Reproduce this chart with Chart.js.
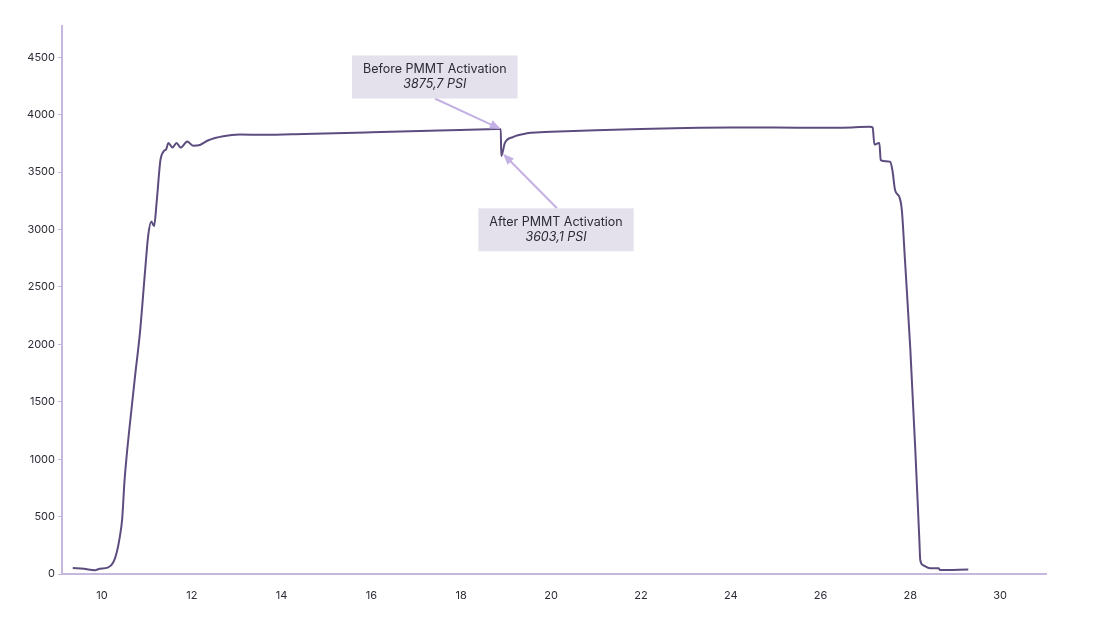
<!DOCTYPE html>
<html>
<head>
<meta charset="utf-8">
<script src="https://cdn.jsdelivr.net/npm/chart.js@4.4.1/dist/chart.umd.min.js"></script>
<style>
  html, body { margin: 0; padding: 0; background: #fff; }
  #wrap { width: 1094px; height: 626px; }
</style>
</head>
<body>
<div id="wrap"><canvas id="pressureChart"></canvas></div>
<script>
// time (min) vs pressure (PSI)
const timeValues = [
  9.35, 9.6, 9.84, 9.95, 10.13, 10.25, 10.33, 10.40, 10.45, 10.50, 10.55, 10.62, 10.73, 10.85, 10.96,
  11.03, 11.10, 11.16, 11.22, 11.30, 11.37, 11.43, 11.48, 11.57, 11.66, 11.75, 11.90, 12.03, 12.18,
  12.37, 12.70, 13.07, 13.6, 14.5, 16, 17.5, 18.80, 18.88, 18.89, 18.97, 19.15, 19.46, 19.75, 20,
  21, 22, 23, 24, 25, 26, 26.7, 27.1, 27.16, 27.20, 27.28, 27.31, 27.34, 27.45, 27.55, 27.60, 27.66,
  27.76, 27.81, 27.88, 28.0, 28.11, 28.20, 28.22, 28.28, 28.44, 28.63, 28.66, 29.29
];
const pressureValues = [
  52, 45, 33, 45, 55, 100, 190, 330, 480, 800, 1030, 1300, 1700, 2120, 2640,
  2950, 3070, 3030, 3250, 3600, 3680, 3700, 3754, 3714, 3754, 3714, 3766, 3731, 3737,
  3778, 3813, 3827, 3826, 3833, 3847, 3862, 3875.7, 3876, 3640, 3753, 3806, 3838, 3847, 3852,
  3866, 3876, 3884, 3888, 3888, 3886, 3890, 3895, 3890, 3740, 3752, 3754, 3604, 3595, 3589, 3517, 3343,
  3279, 3169, 2733, 1950, 1079, 296, 122, 78, 49, 49, 35, 40
];
const yTicks = [0, 500, 1000, 1500, 2000, 2500, 3000, 3500, 4000, 4500];

const noteTitles = ['Before PMMT Activation', 'After PMMT Activation'];
const noteValues = ['3875,7 PSI', '3603,1 PSI'];
const noteTargets = [{ x: 18.88, y: 3876 }, { x: 18.93, y: 3660 }];

const LINE_COLOR = '#5d4d7f';
const AXIS_COLOR = '#c6b7dd';
const NOTE_FILL = '#e4e0ec';
const ARROW_COLOR = '#c3b1e3';
const TEXT_COLOR = '#2b2b36';
const FONT = 'Inter, "Noto Sans", sans-serif';

// box centre offsets from the arrow target, in px
const noteOffsets = [{ dx: -66, dy: -52 }, { dx: 53, dy: 76 }];

const notesPlugin = {
  id: 'notes',
  afterDatasetsDraw(chart) {
    const { ctx, scales: { x, y } } = chart;
    ctx.save();
    noteTargets.forEach((t, i) => {
      const tx = x.getPixelForValue(t.x);
      const ty = y.getPixelForValue(t.y);
      const cx = tx + noteOffsets[i].dx;
      const cy = ty + noteOffsets[i].dy;

      ctx.font = '12.5px ' + FONT;
      const w = ctx.measureText(noteTitles[i]).width + 22;
      const h = 43;
      const bx = cx - w / 2, by = cy - h / 2;

      // arrow from box edge to target
      const sx = cx + (i === 0 ? 0 : 1);
      const sy = i === 0 ? by + h : by;
      const ang = Math.atan2(ty - sy, tx - sx);
      const headLen = 11, headW = 4.5;
      const ex = tx - Math.cos(ang) * headLen * 0.8;
      const ey = ty - Math.sin(ang) * headLen * 0.8;
      ctx.strokeStyle = ARROW_COLOR;
      ctx.lineWidth = 2;
      ctx.beginPath();
      ctx.moveTo(sx, sy);
      ctx.lineTo(ex, ey);
      ctx.stroke();
      ctx.fillStyle = ARROW_COLOR;
      ctx.beginPath();
      ctx.moveTo(tx, ty);
      ctx.lineTo(tx - Math.cos(ang) * headLen - Math.sin(ang) * headW,
                 ty - Math.sin(ang) * headLen + Math.cos(ang) * headW);
      ctx.lineTo(tx - Math.cos(ang) * headLen + Math.sin(ang) * headW,
                 ty - Math.sin(ang) * headLen - Math.cos(ang) * headW);
      ctx.closePath();
      ctx.fill();

      ctx.fillStyle = NOTE_FILL;
      ctx.fillRect(bx, by, w, h);

      ctx.fillStyle = TEXT_COLOR;
      ctx.textAlign = 'center';
      ctx.textBaseline = 'middle';
      ctx.font = '12.5px ' + FONT;
      ctx.fillText(noteTitles[i], cx, cy - 7.5);
      ctx.font = 'italic 12.5px ' + FONT;
      ctx.fillText(noteValues[i], cx, cy + 7.5);
    });
    ctx.restore();
  }
};

new Chart(document.getElementById('pressureChart'), {
  type: 'line',
  data: {
    datasets: [{
      data: timeValues.map((t, i) => ({ x: t, y: pressureValues[i] })),
      borderColor: LINE_COLOR,
      borderWidth: 2,
      pointRadius: 0,
      fill: false,
      cubicInterpolationMode: 'monotone'
    }]
  },
  options: {
    responsive: true,
    maintainAspectRatio: false,
    animation: false,
    layout: { padding: { top: 26, right: 48, left: 0, bottom: 0 } },
    plugins: { legend: { display: false }, tooltip: { enabled: false } },
    scales: {
      x: {
        type: 'linear',
        min: 9.11,
        max: 31.02,
        afterFit: (s) => { s.height = 52; },
        grid: { display: false },
        border: { display: true, color: AXIS_COLOR, width: 2 },
        ticks: {
          stepSize: 2,
          includeBounds: false,
          padding: 7,
          color: TEXT_COLOR,
          font: { family: FONT, size: 11 },
          maxRotation: 0,
          callback: (v) => String(v)
        }
      },
      y: {
        min: 0,
        max: 4773,
        afterFit: (s) => { s.width = 62; },
        afterBuildTicks: (s) => { s.ticks = yTicks.map(v => ({ value: v })); },
        grid: { display: true, drawOnChartArea: false, drawTicks: true, tickLength: 4, color: AXIS_COLOR, lineWidth: 1 },
        border: { display: true, color: AXIS_COLOR, width: 2 },
        ticks: {
          padding: 3,
          color: TEXT_COLOR,
          font: { family: FONT, size: 11 },
          callback: (v) => String(v)
        }
      }
    }
  },
  plugins: [notesPlugin]
});
</script>
</body>
</html>
